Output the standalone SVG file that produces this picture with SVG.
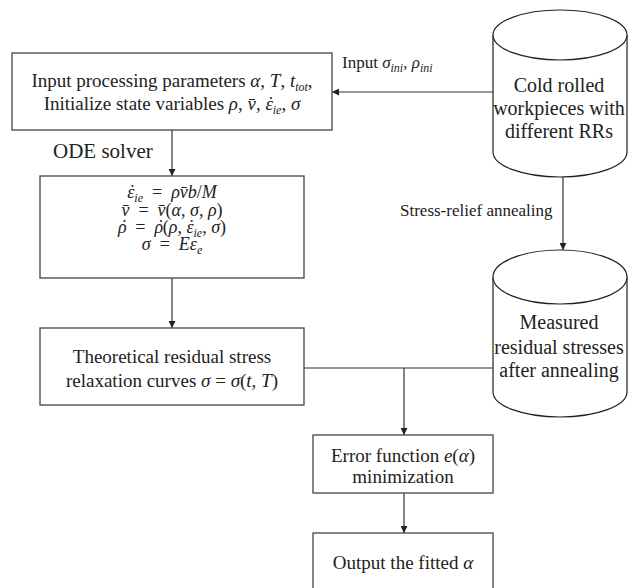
<svg xmlns="http://www.w3.org/2000/svg" width="628" height="588" viewBox="0 0 628 588" font-family="'Liberation Serif', 'Times New Roman', serif">
  <defs>
    <marker id="arrow" viewBox="0 0 10 10" refX="10" refY="5" markerWidth="7" markerHeight="7" markerUnits="userSpaceOnUse" orient="auto">
      <path d="M0,0 L10,5 L0,10 Z" fill="#222"/>
    </marker>
    <style>
      .box { fill: #fff; stroke: #444; stroke-width: 1.3; }
      .cyl { fill: #fff; stroke: #222; stroke-width: 1.2; }
      .link { fill: none; stroke: #333; stroke-width: 1.2; }
      .t, .eq, .lbl, .cy, .ode { font-family: "Liberation Serif", "Times New Roman", serif; fill: #222; }
      .t { font-size: 19px; text-anchor: middle; }
      .cy { font-size: 20px; text-anchor: middle; }
      .eq { font-size: 18px; text-anchor: middle; }
      .lbl { font-size: 17px; }
      .ode { font-size: 21px; }
      .m { font-style: italic; }
      .sub { font-size: 12px; font-style: italic; }
    </style>
  </defs>
  <rect width="628" height="588" fill="#fff"/>

  <!-- connectors -->
  <g id="connectors">
    <path class="link" d="M493,92 H332" marker-end="url(#arrow)"/>
    <path class="link" d="M172,130 V176" marker-end="url(#arrow)"/>
    <path class="link" d="M172,278 V328" marker-end="url(#arrow)"/>
    <path class="link" d="M563,177 V250" marker-end="url(#arrow)"/>
    <path class="link" d="M304,368 H493"/>
    <path class="link" d="M404,368 V435" marker-end="url(#arrow)"/>
    <path class="link" d="M404,493 V533" marker-end="url(#arrow)"/>
    <text class="lbl" x="342" y="68">Input <tspan class="m">σ</tspan><tspan class="sub" dy="4">ini</tspan><tspan dy="-4">, </tspan><tspan class="m">ρ</tspan><tspan class="sub" dy="4">ini</tspan></text>
    <text class="lbl" x="400" y="216">Stress-relief annealing</text>
    <text class="ode" x="53" y="158">ODE solver</text>
  </g>

  <!-- input / initialisation box -->
  <g id="init">
    <rect class="box" x="12" y="53" width="320" height="77"/>
    <text class="t" x="172" y="87">Input processing parameters <tspan class="m">α</tspan>, <tspan class="m">T</tspan>, <tspan class="m">t</tspan><tspan class="sub" dy="4">tot</tspan><tspan dy="-4">,</tspan></text>
    <text class="t" x="172" y="110">Initialize  state variables <tspan class="m">ρ</tspan>, <tspan class="m">v̄</tspan>, <tspan class="m">ε</tspan><tspan class="m" dx="-6.5">˙</tspan><tspan class="sub" dy="4">ie</tspan><tspan dy="-4">, </tspan><tspan class="m">σ</tspan></text>
  </g>

  <!-- ODE system box -->
  <g id="ode">
    <rect class="box" x="40" y="176" width="264" height="102"/>
    <text class="eq" x="172" y="198"><tspan class="m">ε</tspan><tspan class="m" dx="-6">˙</tspan><tspan class="sub" dy="4">ie</tspan><tspan dy="-4">&#8194;=&#8194;</tspan><tspan class="m">ρv̄b</tspan>/<tspan class="m">M</tspan></text>
    <text class="eq" x="172" y="216"><tspan class="m">v̄</tspan>&#8194;=&#8194;<tspan class="m">v̄</tspan>(<tspan class="m">α</tspan>, <tspan class="m">σ</tspan>, <tspan class="m">ρ</tspan>)</text>
    <text class="eq" x="172" y="233"><tspan class="m">ρ</tspan><tspan class="m" dx="-6.3">˙</tspan>&#8194;=&#8194;<tspan class="m">ρ</tspan><tspan class="m" dx="-6.3">˙</tspan>(<tspan class="m">ρ</tspan>, <tspan class="m">ε</tspan><tspan class="m" dx="-6">˙</tspan><tspan class="sub" dy="4">ie</tspan><tspan dy="-4">, </tspan><tspan class="m">σ</tspan>)</text>
    <text class="eq" x="172" y="250"><tspan class="m">σ</tspan>&#8194;=&#8194;<tspan class="m">Eε</tspan><tspan class="sub" dy="4">e</tspan></text>
  </g>

  <!-- theoretical curves box -->
  <g id="theory">
    <rect class="box" x="40" y="328" width="264" height="77"/>
    <text class="t" x="172" y="363">Theoretical residual stress</text>
    <text class="t" x="172" y="387">relaxation  curves <tspan class="m">σ</tspan> = <tspan class="m">σ</tspan>(<tspan class="m">t</tspan>, <tspan class="m">T</tspan>)</text>
  </g>

  <!-- cold rolled workpieces -->
  <g id="workpieces">
    <path class="cyl" d="M493,35 V152 A67,25 0 0 0 627,152 V35"/>
    <ellipse class="cyl" cx="560" cy="35" rx="67" ry="25"/>
    <text class="cy" x="559" y="92">Cold rolled</text>
    <text class="cy" x="559" y="115">workpieces with</text>
    <text class="cy" x="559" y="138">different RRs</text>
  </g>

  <!-- measured stresses -->
  <g id="measured">
    <path class="cyl" d="M493,277 V392 A67,25 0 0 0 627,392 V277"/>
    <ellipse class="cyl" cx="560" cy="277" rx="67" ry="27"/>
    <text class="cy" x="559" y="329">Measured</text>
    <text class="cy" x="559" y="354">residual stresses</text>
    <text class="cy" x="559" y="377">after annealing</text>
  </g>

  <!-- error minimisation -->
  <g id="error">
    <rect class="box" x="313" y="435" width="180" height="58"/>
    <text class="t" x="403" y="462">Error function <tspan class="m">e</tspan>(<tspan class="m">α</tspan>)</text>
    <text class="t" x="403" y="483">minimization</text>
  </g>

  <!-- output -->
  <g id="output">
    <rect class="box" x="313" y="533" width="180" height="62"/>
    <text class="t" x="403" y="569">Output the fitted <tspan class="m">α</tspan></text>
  </g>
</svg>
